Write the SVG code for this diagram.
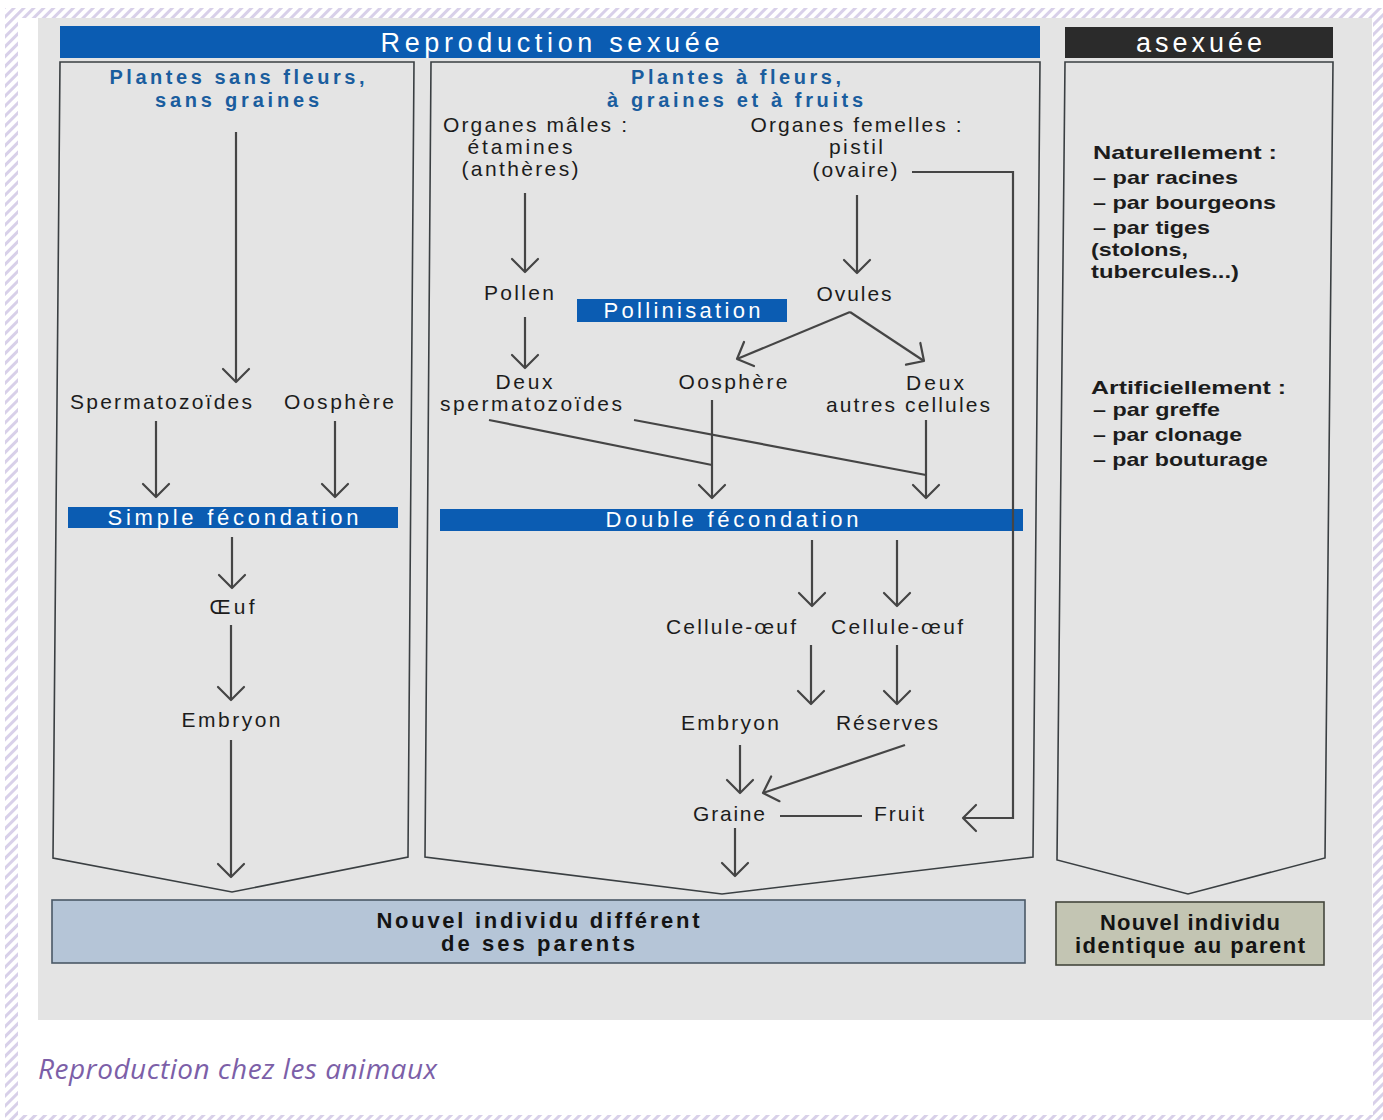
<svg xmlns="http://www.w3.org/2000/svg" width="1383" height="1120" viewBox="0 0 1383 1120">
<defs>
<pattern id="hatch" width="7" height="7" patternUnits="userSpaceOnUse" patternTransform="rotate(45)">
<rect width="7" height="7" fill="#ffffff"/><rect width="3" height="7" fill="#d8d0e9"/>
</pattern>
<marker id="ah" viewBox="-16 -16 18 32" markerWidth="18" markerHeight="32" refX="0" refY="0" orient="auto" markerUnits="userSpaceOnUse" overflow="visible">
<path d="M-13,-13 L0,0 L-13,13" fill="none" stroke="#454545" stroke-width="2.2" stroke-linecap="round" stroke-linejoin="round"/>
</marker>
</defs>
<style>
.t{font-family:"Liberation Sans",Arial,sans-serif;font-size:21px;fill:#1c1c1c;text-anchor:middle}
.ttl{font-family:"Liberation Sans",Arial,sans-serif;font-size:20px;font-weight:bold;fill:#1a5d9e;text-anchor:middle}
.bar{fill:#0b5cb2}
.bt{font-family:"Liberation Sans",Arial,sans-serif;font-size:22px;fill:#ffffff;text-anchor:middle}
.ht{font-family:"Liberation Sans",Arial,sans-serif;font-size:27px;fill:#ffffff;text-anchor:middle}
.col{fill:#e4e4e4;stroke:#3a3f42;stroke-width:1.6}
.bb{font-family:"Liberation Sans",Arial,sans-serif;font-size:22px;font-weight:bold;fill:#141414;text-anchor:middle}
.r{font-family:"Liberation Sans",Arial,sans-serif;font-size:19px;font-weight:bold;fill:#1c1c1c}
.c{fill:none;stroke:#454545;stroke-width:2.2}
.a{marker-end:url(#ah)}
</style>
<rect x="0" y="0" width="1383" height="1120" fill="#ffffff"/>
<rect x="5" y="8" width="1378" height="1112" fill="url(#hatch)"/>
<rect x="18" y="18" width="1355" height="1097" fill="#ffffff"/>
<rect x="38" y="18" width="1334" height="1002" fill="#e4e4e4"/>

<g id="header-sexuee"><rect class="bar" x="60" y="26" width="980" height="32"/><text class="ht" x="550" y="52" textLength="339" lengthAdjust="spacing">Reproduction sexuée</text></g>
<g id="header-asexuee"><rect x="1065" y="27" width="268" height="31" fill="#2b2b2b"/><text class="ht" x="1199" y="52" textLength="126" lengthAdjust="spacing" fill="#e8e8e8">asexuée</text></g>

<g id="col-sans-fleurs"><polygon class="col" points="60,62 414,62 408,857 232,892 53,858"/>
<text class="ttl" x="237" y="84" textLength="255" lengthAdjust="spacing">Plantes sans fleurs,</text>
<text class="ttl" x="237" y="107" textLength="164" lengthAdjust="spacing">sans graines</text></g>
<g id="col-fleurs"><polygon class="col" points="431,62 1040,62 1033,857 722,894 425,857"/>
<text class="ttl" x="736" y="84" textLength="210" lengthAdjust="spacing">Plantes à fleurs,</text>
<text class="ttl" x="735" y="107" textLength="256" lengthAdjust="spacing">à graines et à fruits</text></g>
<g id="col-asexuee"><polygon class="col" points="1065,62 1333,62 1325,858 1188,894 1057,860"/>
<text class="r" x="1093" y="159" textLength="184" lengthAdjust="spacingAndGlyphs">Naturellement :</text>
<text class="r" x="1093" y="184" textLength="145" lengthAdjust="spacingAndGlyphs">– par racines</text>
<text class="r" x="1093" y="209" textLength="183" lengthAdjust="spacingAndGlyphs">– par bourgeons</text>
<text class="r" x="1093" y="234" textLength="117" lengthAdjust="spacingAndGlyphs">– par tiges</text>
<text class="r" x="1091" y="256" textLength="97" lengthAdjust="spacingAndGlyphs">(stolons,</text>
<text class="r" x="1091" y="278" textLength="148" lengthAdjust="spacingAndGlyphs">tubercules...)</text>
<text class="r" x="1091" y="394" textLength="195" lengthAdjust="spacingAndGlyphs">Artificiellement :</text>
<text class="r" x="1093" y="416" textLength="127" lengthAdjust="spacingAndGlyphs">– par greffe</text>
<text class="r" x="1093" y="441" textLength="149" lengthAdjust="spacingAndGlyphs">– par clonage</text>
<text class="r" x="1093" y="466" textLength="175" lengthAdjust="spacingAndGlyphs">– par bouturage</text></g>

<g id="n-spermato-l"><text class="t" x="161" y="409" textLength="182" lengthAdjust="spacing">Spermatozoïdes</text></g>
<g id="n-oosphere-l"><text class="t" x="339" y="409" textLength="110" lengthAdjust="spacing">Oosphère</text></g>
<g id="n-simple"><rect class="bar" x="68" y="507" width="330" height="21"/><text class="bt" x="233" y="525" textLength="251" lengthAdjust="spacing">Simple fécondation</text></g>
<g id="n-oeuf"><text class="t" x="232" y="614" textLength="45" lengthAdjust="spacing">Œuf</text></g>
<g id="n-embryon-l"><text class="t" x="231" y="727" textLength="99" lengthAdjust="spacing">Embryon</text></g>

<g id="n-males"><text class="t" x="535" y="132" textLength="184" lengthAdjust="spacing">Organes mâles :</text>
<text class="t" x="520" y="154" textLength="105" lengthAdjust="spacing">étamines</text>
<text class="t" x="520" y="176" textLength="117" lengthAdjust="spacing">(anthères)</text></g>
<g id="n-femelles"><text class="t" x="856" y="132" textLength="211" lengthAdjust="spacing">Organes femelles :</text>
<text class="t" x="856" y="154" textLength="54" lengthAdjust="spacing">pistil</text>
<text class="t" x="855" y="177" textLength="85" lengthAdjust="spacing">(ovaire)</text></g>
<g id="n-pollen"><text class="t" x="519" y="300" textLength="70" lengthAdjust="spacing">Pollen</text></g>
<g id="n-ovules"><text class="t" x="854" y="301" textLength="75" lengthAdjust="spacing">Ovules</text></g>
<g id="n-pollinisation"><rect class="bar" x="577" y="299" width="210" height="23"/><text class="bt" x="682" y="318" textLength="157" lengthAdjust="spacing">Pollinisation</text></g>
<g id="n-deux-sperm"><text class="t" x="524" y="389" textLength="57" lengthAdjust="spacing">Deux</text>
<text class="t" x="531" y="411" textLength="182" lengthAdjust="spacing">spermatozoïdes</text></g>
<g id="n-oosphere-m"><text class="t" x="733" y="389" textLength="109" lengthAdjust="spacing">Oosphère</text></g>
<g id="n-deux-cell"><text class="t" x="935" y="390" textLength="58" lengthAdjust="spacing">Deux</text>
<text class="t" x="908" y="412" textLength="164" lengthAdjust="spacing">autres cellules</text></g>
<g id="n-double"><rect class="bar" x="440" y="509" width="583" height="22"/><text class="bt" x="732" y="527" textLength="253" lengthAdjust="spacing">Double fécondation</text></g>
<g id="n-cell1"><text class="t" x="731" y="634" textLength="130" lengthAdjust="spacing">Cellule-œuf</text></g>
<g id="n-cell2"><text class="t" x="897" y="634" textLength="132" lengthAdjust="spacing">Cellule-œuf</text></g>
<g id="n-embryon-m"><text class="t" x="730" y="730" textLength="98" lengthAdjust="spacing">Embryon</text></g>
<g id="n-reserves"><text class="t" x="887" y="730" textLength="102" lengthAdjust="spacing">Réserves</text></g>
<g id="n-graine"><text class="t" x="729" y="821" textLength="72" lengthAdjust="spacing">Graine</text></g>
<g id="n-fruit"><text class="t" x="899" y="821" textLength="50" lengthAdjust="spacing">Fruit</text></g>

<g id="n-nouvel-diff"><rect x="52" y="900" width="973" height="63" fill="#b5c5d7" stroke="#4a5866" stroke-width="1.6"/>
<text class="bb" x="538" y="928" textLength="323" lengthAdjust="spacing">Nouvel individu différent</text>
<text class="bb" x="538" y="951" textLength="194" lengthAdjust="spacing">de ses parents</text></g>
<g id="n-nouvel-ident"><rect x="1056" y="902" width="268" height="63" fill="#c3c5b3" stroke="#44463c" stroke-width="1.6"/>
<text class="bb" x="1190" y="930" textLength="180" lengthAdjust="spacing">Nouvel individu</text>
<text class="bb" x="1190" y="953" textLength="230" lengthAdjust="spacing">identique au parent</text></g>

<g id="connectors">
<path class="c a" d="M236,132 V382"/>
<path class="c a" d="M156,421 V497"/>
<path class="c a" d="M335,421 V497"/>
<path class="c a" d="M232,537 V588"/>
<path class="c a" d="M231,625 V700"/>
<path class="c a" d="M231,740 V877"/>
<path class="c a" d="M525,193 V272"/>
<path class="c a" d="M857,195 V273"/>
<path class="c a" d="M525,317 V368"/>
<path class="c a" d="M850,312 L737,359"/>
<path class="c a" d="M850,312 L924,361"/>
<path class="c a" d="M712,400 V498"/>
<path class="c a" d="M926,420 V498"/>
<path class="c" d="M489,420 L712,465"/>
<path class="c" d="M634,420 L926,475"/>
<path class="c a" d="M812,540 V606"/>
<path class="c a" d="M897,540 V606"/>
<path class="c a" d="M811,645 V704"/>
<path class="c a" d="M897,645 V704"/>
<path class="c a" d="M740,745 V793"/>
<path class="c a" d="M905,745 L763,793"/>
<path class="c" d="M780,816 H862"/>
<path class="c a" d="M735,828 V876"/>
<path class="c a" d="M912,172 H1013 V818 H963"/>
</g>

<text x="38" y="1079" font-family="'Open Sans','Liberation Sans',sans-serif" font-style="italic" font-size="28" fill="#7c5fa8" textLength="399" lengthAdjust="spacing">Reproduction chez les animaux</text>
</svg>
